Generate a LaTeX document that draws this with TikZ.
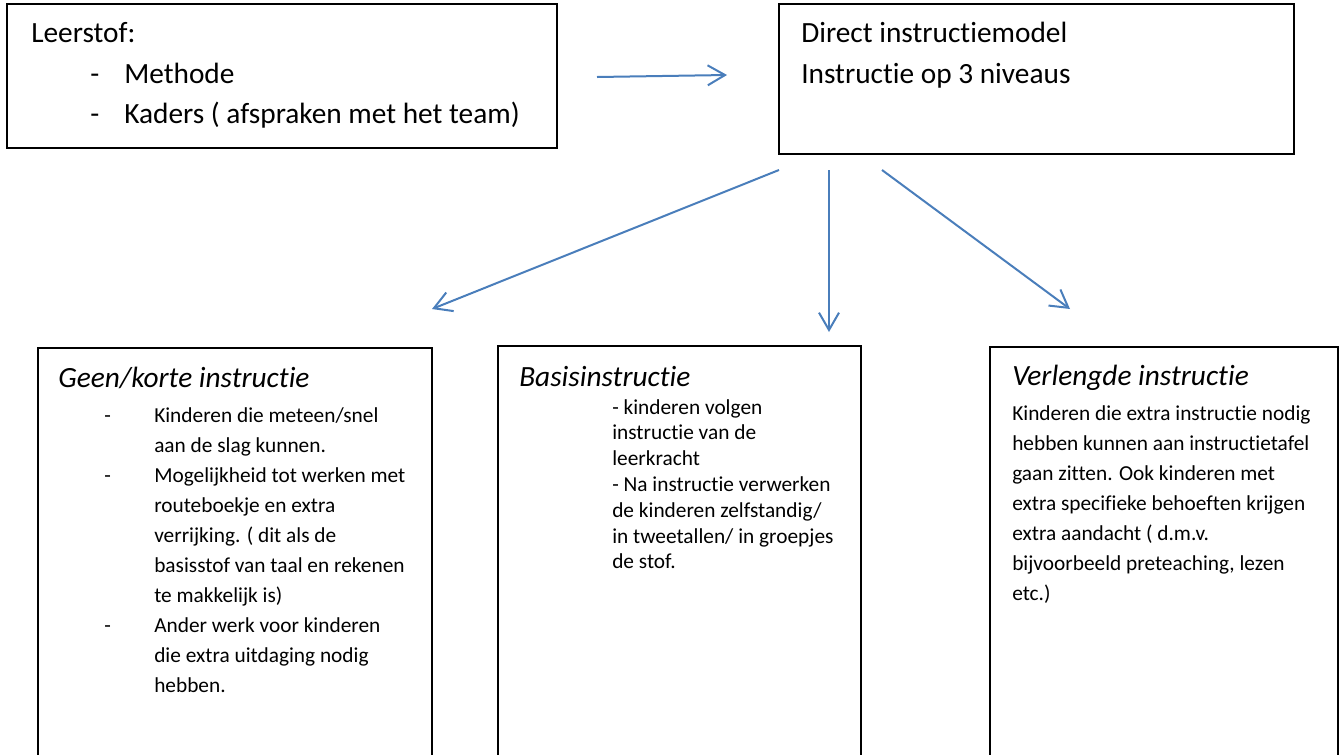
\documentclass[tikz,border=0pt]{standalone}
\usepackage{fontspec}
\setmainfont{Carlito}[Ligatures=NoCommon]
\usetikzlibrary{arrows.meta,fit}
\definecolor{officeblue}{RGB}{74,126,187}
\tikzset{
	box/.style={draw=black, line width=1.1pt, inner sep=0pt},
	bigtext/.style={anchor=base west, inner sep=0pt, font=\fontsize{22}{26}\selectfont},
	headtext/.style={bigtext, font=\fontsize{22}{26}\selectfont\itshape},
	bodytext/.style={anchor=base west, inner sep=0pt, font=\fontsize{16}{19}\selectfont},
	flow/.style={draw=officeblue, line width=1.5pt, -{Straight Barb[length=13pt,width=15pt,line width=1.5pt]}}
}
\begin{document}
\begin{tikzpicture}[x=0.75pt, y=-0.75pt]
	\useasboundingbox (0,0) rectangle (1339,754);
	\clip (0,0) rectangle (1339,754);
	% bovenste rij
	\node[box, fit={(7,4) (557,148)}] (leerstof) {};
	\node[bigtext] (ltitle) at (31,42) {Leerstof:};
	\node[bigtext] (ldash1) at (90,83) {-};
	\node[bigtext] (methode) at (124,83) {Methode};
	\node[bigtext] (ldash2) at (90,123) {-};
	\node[bigtext] (kaders) at (124,123) {Kaders ( afspraken met het team)};
	\node[box, fit={(779,4) (1294,154)}] (dim) {};
	\node[bigtext] (dtitle) at (801,42) {Direct instructiemodel};
	\node[bigtext] (dniv) at (801,83) {Instructie op 3 niveaus};
	% onderste rij
	\node[box, fit={(38,348) (432,780)}] (geen) {};
	\node[headtext] (gtitle) at (58,387) {Geen/korte instructie};
	\foreach \y in {422,482,632}
		\node[bodytext] (gdash\y) at (104,\y) {-};
	\foreach \t [count=\i] in {Kinderen die meteen/snel, aan de slag kunnen., Mogelijkheid tot werken met, routeboekje en extra, verrijking. ( dit als de, basisstof van taal en rekenen, te makkelijk is), Ander werk voor kinderen, die extra uitdaging nodig, hebben.}
		\node[bodytext] (gline\i) at (154,392+30*\i) {\t};
	\node[box, fit={(498,346) (861,780)}] (basis) {};
	\node[headtext] (btitle) at (519,386) {Basisinstructie};
	\foreach \t [count=\i] in {- kinderen volgen, instructie van de, leerkracht, - Na instructie verwerken, de kinderen zelfstandig/, in tweetallen/ in groepjes, de stof.}
		\node[bodytext] (bline\i) at (612,388.2+25.8*\i) {\t};
	\node[box, fit={(990,347) (1338,780)}] (verlengd) {};
	\node[headtext] (vtitle) at (1012,385) {Verlengde instructie};
	\foreach \t [count=\i] in {Kinderen die extra instructie nodig, hebben kunnen aan instructietafel, gaan zitten. Ook kinderen met, extra specifieke behoeften krijgen, extra aandacht ( d.m.v., {bijvoorbeeld preteaching, lezen}, etc.)}
		\node[bodytext] (vline\i) at (1012,390+30*\i) {\t};
	% pijlen
	\coordinate (lout) at (597,77);
	\coordinate (din) at (727,75);
	\coordinate (dout1) at (779,170);
	\coordinate (dout2) at (829,170);
	\coordinate (dout3) at (882,170);
	\coordinate (gin) at (432,309);
	\coordinate (bin) at (829,332);
	\coordinate (vin) at (1070,309);
	\draw[flow] (lout) -- (din);
	\draw[flow] (dout1) -- (gin);
	\draw[flow] (dout2) -- (bin);
	\draw[flow] (dout3) -- (vin);
\end{tikzpicture}
\end{document}
